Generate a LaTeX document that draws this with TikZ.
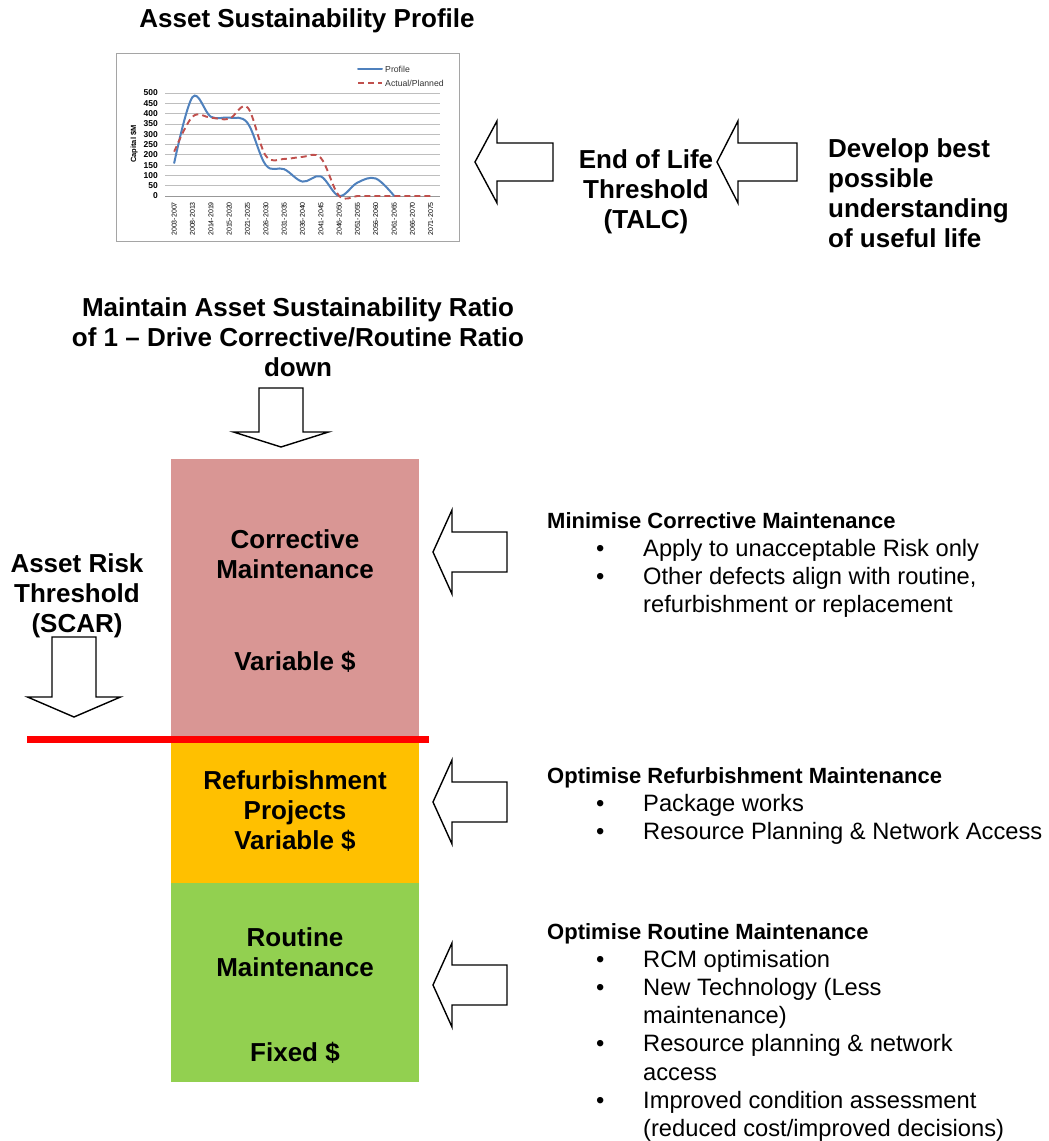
\documentclass[tikz,border=0pt]{standalone}
\usepackage{fontspec}
\setmainfont{Liberation Sans}
\definecolor{corrpink}{RGB}{217,150,148}
\definecolor{refurborange}{RGB}{255,192,0}
\definecolor{routinegreen}{RGB}{146,208,80}
\definecolor{profileblue}{RGB}{79,129,189}
\definecolor{plannedred}{RGB}{192,80,77}
\definecolor{gridgray}{RGB}{190,190,190}
\definecolor{framegray}{RGB}{165,165,165}

% hollow block arrow pointing left: tip x, tip y, length, head length, head half-height, shaft half-height
\newcommand\blockleft[6]{%
  \draw[blk] (#1,#2) -- ++(#4,-#5) -- ++(0,#5-#6) -- ++(#3-#4,0) -- ++(0,2*#6)
    -- ++(-#3+#4,0) -- ++(0,#5-#6) -- cycle;}
% hollow block arrow pointing down: tip x, tip y, length, head length, head half-width, shaft half-width
\newcommand\blockdown[6]{%
  \draw[blk] (#1,#2) -- ++(-#5,-#4) -- ++(#5-#6,0) -- ++(0,-#3+#4) -- ++(2*#6,0)
    -- ++(0,#3-#4) -- ++(#5-#6,0) -- cycle;}

\begin{document}
\begin{tikzpicture}[x=1pt,y=-1pt,
  blk/.style={draw=black, line width=1.4pt, fill=white, line join=miter},
  bigtxt/.style={inner sep=0pt, align=center, font=\fontsize{26}{30}\selectfont\bfseries},
  listtxt/.style={inner sep=0pt, anchor=base west, font=\fontsize{23.7}{28.2}\selectfont},
  gridline/.style={draw=gridgray, line width=0.8pt},
  ylab/.style={inner sep=0pt, anchor=east, font=\fontsize{8.5}{9}\selectfont\bfseries},
  catlab/.style={inner sep=0pt, anchor=east, rotate=90, font=\fontsize{7}{8}\selectfont},
  legtxt/.style={inner sep=0pt, anchor=west, font=\fontsize{8.7}{9}\selectfont, text=black!80},
  profile/.style={draw=profileblue, line width=2pt, line cap=round},
  planned/.style={draw=plannedred, line width=1.9pt, dash pattern=on 6pt off 4pt},
]
\useasboundingbox (0,0) rectangle (1049,1141);
\fill[white] (0,0) rectangle (1049,1141);

% ---------- chart: asset sustainability profile ----------
\node[bigtxt, anchor=base] (title) at (307,27) {Asset Sustainability Profile};
\draw[framegray, line width=0.8pt, fill=white] (116,53) rectangle (459,241);
\foreach \v in {50,100,...,500}
  \draw[gridline] (165,{196-0.206*\v}) -- (440,{196-0.206*\v});
\draw[draw=gridgray!80!black, line width=0.8pt] (165,196) -- (440,196);
\foreach \v in {0,50,...,500}
  \node[ylab] (yl\v) at (158,{196-0.206*\v}) {\v};
\node[inner sep=0pt, rotate=90, font=\fontsize{7.5}{8}\selectfont\bfseries] (ytitle) at (134,144) {Capital \$M};
\foreach \lab [count=\i from 0] in {2003-2007,2008-2013,2014-2019,2015-2020,2021-2025,2026-2030,2031-2035,2036-2040,2041-2045,2046-2050,2051-2055,2056-2060,2061-2065,2066-2070,2071-2075}
  \node[catlab] (cat\i) at ({174.2+18.33*\i},202) {\lab};

\draw[profile] plot[smooth, tension=0.6] coordinates {(174.2,163.0) (192.5,97.1) (210.8,116.7) (229.2,117.7) (247.5,122.9) (265.8,165.1) (284.2,169.2) (302.5,181.6) (320.8,176.4) (339.2,196) (357.5,182.6) (375.8,178.5) (394.2,196)};
\draw[planned] plot[smooth, tension=0.6] coordinates {(174.2,151.7) (192.5,116.7) (210.8,117.7) (229.2,118.8) (247.5,107.4) (265.8,155.8) (284.2,158.9) (302.5,156.9) (320.8,157.9) (339.2,196) (357.5,196) (375.8,196) (394.2,196) (412.5,196) (430.8,196)};

\draw[profile] (358,69) -- (382,69);
\node[legtxt] (legp) at (385,69) {Profile};
\draw[planned] (358,83) -- (382,83);
\node[legtxt] (lega) at (385,83) {Actual/Planned};

% ---------- end of life threshold ----------
% multi-line nodes are placed by the baseline of their last line
\blockleft{475}{162}{78}{22}{41}{19}
\node[bigtxt, anchor=base] (talc) at (646,228) {End of Life\\Threshold\\(TALC)};
\blockleft{717}{162}{80}{21}{41}{19}
\node[bigtxt, anchor=base west, align=left] (life) at (828,247) {Develop best\\possible\\understanding\\of useful life};

% ---------- maintenance stack ----------
\node[bigtxt, anchor=base] (ratio) at (298,376) {Maintain Asset Sustainability Ratio\\of 1 – Drive Corrective/Routine Ratio\\down};
\blockdown{281}{447}{59}{15}{47.5}{22}

\fill[corrpink] (171,459) rectangle (419,736);
\fill[refurborange] (171,736) rectangle (419,883);
\fill[routinegreen] (171,883) rectangle (419,1082);

\node[bigtxt, anchor=base] (corr) at (295,578) {Corrective\\Maintenance};
\node[bigtxt, anchor=base] (corrvar) at (295,670) {Variable \$};
\node[bigtxt, anchor=base] (refurb) at (295,849) {Refurbishment\\Projects\\Variable \$};
\node[bigtxt, anchor=base] (routine) at (295,976) {Routine\\Maintenance};
\node[bigtxt, anchor=base] (fixed) at (295,1061) {Fixed \$};

% ---------- asset risk threshold ----------
\node[bigtxt, anchor=base] (scar) at (77,632) {Asset Risk\\Threshold\\(SCAR)};
\blockdown{74}{717}{80}{20}{46.5}{22}
\draw[red, line width=7pt] (27,739.5) -- (429,739.5);

% ---------- improvement actions ----------
\blockleft{433}{552}{74}{19}{42}{20}
\node[listtxt] (minc) at (547,528) {\begin{tabular}[t]{@{}l@{}l@{}}
\multicolumn{2}{@{}l@{}}{\fontsize{22}{28}\selectfont\bfseries Minimise Corrective Maintenance}\\
\hspace*{49pt}\makebox[47pt][l]{•} & Apply to unacceptable Risk only\\
\hspace*{49pt}\makebox[47pt][l]{•} & Other defects align with routine,\\
 & refurbishment or replacement
\end{tabular}};

\blockleft{433}{802}{74}{19}{42}{20}
\node[listtxt] (optref) at (547,783) {\begin{tabular}[t]{@{}l@{}l@{}}
\multicolumn{2}{@{}l@{}}{\fontsize{22}{28}\selectfont\bfseries Optimise Refurbishment Maintenance}\\
\hspace*{49pt}\makebox[47pt][l]{•} & Package works\\
\hspace*{49pt}\makebox[47pt][l]{•} & Resource Planning \& Network Access
\end{tabular}};

\blockleft{433}{985}{74}{19}{42}{20}
\node[listtxt] (optrout) at (547,939) {\begin{tabular}[t]{@{}l@{}l@{}}
\multicolumn{2}{@{}l@{}}{\fontsize{22}{28}\selectfont\bfseries Optimise Routine Maintenance}\\
\hspace*{49pt}\makebox[47pt][l]{•} & RCM optimisation\\
\hspace*{49pt}\makebox[47pt][l]{•} & New Technology (Less\\
 & maintenance)\\
\hspace*{49pt}\makebox[47pt][l]{•} & Resource planning \& network\\
 & access\\
\hspace*{49pt}\makebox[47pt][l]{•} & Improved condition assessment\\
 & (reduced cost/improved decisions)
\end{tabular}};
\end{tikzpicture}
\end{document}
